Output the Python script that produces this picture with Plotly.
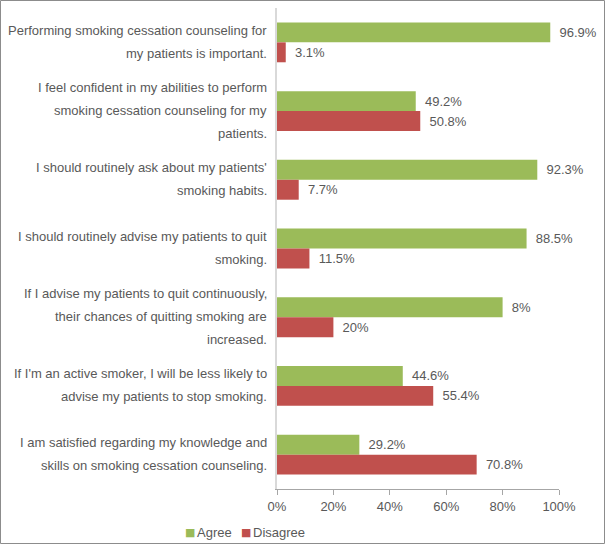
import plotly.graph_objects as go

category_lines = [
    ["Performing smoking cessation counseling for", "my patients is important."],
    ["I feel confident in my abilities to perform", "smoking cessation counseling for my", "patients."],
    ["I should routinely ask about my patients'", "smoking habits."],
    ["I should routinely advise my patients to quit", "smoking."],
    ["If I advise my patients to quit continuously,", "their chances of quitting smoking are", "increased."],
    ["If I'm an active smoker, I will be less likely to", "advise my patients to stop smoking."],
    ["I am satisfied regarding my knowledge and", "skills on smoking cessation counseling."],
]
categories = [" ".join(l) for l in category_lines]

series_names = ["Agree", "Disagree"]
agree = [96.9, 49.2, 92.3, 88.5, 80, 44.6, 29.2]
disagree = [3.1, 50.8, 7.7, 11.5, 20, 55.4, 70.8]
agree_labels = ["96.9%", "49.2%", "92.3%", "88.5%", "8%", "44.6%", "29.2%"]
disagree_labels = ["3.1%", "50.8%", "7.7%", "11.5%", "20%", "55.4%", "70.8%"]
tick_vals = [0, 20, 40, 60, 80, 100]
tick_text = ["0%", "20%", "40%", "60%", "80%", "100%"]

GREEN = "#9BBB59"
RED = "#C0504D"
TXT = "#595959"
FONT = "Liberation Sans, Arial, sans-serif"

fig = go.Figure()
for name, vals, labels, color in [(series_names[0], agree, agree_labels, GREEN),
                                  (series_names[1], disagree, disagree_labels, RED)]:
    fig.add_trace(go.Bar(
        y=categories, x=vals, orientation="h", name=name,
        marker=dict(color=color, line=dict(width=0)),
        text=labels, texttemplate="\u00a0\u2009%{text}", textposition="outside",
        cliponaxis=False, constraintext="none",
        textfont=dict(size=13, color=TXT, family=FONT),
        showlegend=False, hoverinfo="x+name",
    ))

W, H = 605, 544
L, R, T, B = 277, 46, 8, 55
pw, ph = W - L - R, H - T - B

def px(xp):
    return (xp - L) / pw

def py(yp):
    return (H - B - yp) / ph

annotations = []
LS = 23
for cat, lines in zip(categories, category_lines):
    n = len(lines)
    for i, line in enumerate(lines):
        off = (i - (n - 1) / 2) * LS
        annotations.append(dict(
            xref="paper", yref="y", x=0, y=cat, text=line, showarrow=False,
            xanchor="right", yanchor="middle", xshift=-8, yshift=-off + 0.5,
            font=dict(size=13, color=TXT, family=FONT),
        ))

# custom compact legend
legend_pos = [(183, GREEN, series_names[0]), (239, RED, series_names[1])]
for x0, color, name in legend_pos:
    annotations.append(dict(
        xref="paper", yref="paper", x=px(x0), y=py(532), text="\u25a0",
        showarrow=False, xanchor="left", yanchor="middle",
        font=dict(size=11, color=color, family="DejaVu Sans"),
    ))
    annotations.append(dict(
        xref="paper", yref="paper", x=px(x0 + 12), y=py(532), text=name,
        showarrow=False, xanchor="left", yanchor="middle",
        font=dict(size=13, color=TXT, family=FONT),
    ))

fig.update_layout(
    width=W, height=H,
    margin=dict(l=L, r=R, t=T, b=B, autoexpand=False),
    paper_bgcolor="white", plot_bgcolor="white",
    barmode="group", bargap=0.42, bargroupgap=0,
    font=dict(family=FONT, size=13, color=TXT),
    showlegend=False,
    annotations=annotations,
    shapes=[dict(type="rect", xref="paper", yref="paper",
                 x0=px(0.5), x1=px(W - 0.5),
                 y0=py(H - 0.5), y1=py(0.5),
                 line=dict(color="#8C8C8C", width=1), fillcolor="rgba(0,0,0,0)",
                 layer="above")],
)
fig.update_xaxes(range=[0, 100], tickvals=tick_vals, ticktext=tick_text,
                 showgrid=False, zeroline=False, showline=True,
                 linecolor="#A6A6A6", linewidth=1, ticks="outside",
                 tickcolor="#A6A6A6", ticklen=5,
                 tickfont=dict(size=13, color=TXT, family=FONT))
fig.update_yaxes(autorange="reversed", showticklabels=False, showgrid=False,
                 zeroline=False, showline=True, linecolor="#D9D9D9",
                 linewidth=2, ticks="")

fig.write_html("out.html", config={"displayModeBar": False},
               post_script="document.body.style.margin='0';document.body.style.overflow='hidden';")
